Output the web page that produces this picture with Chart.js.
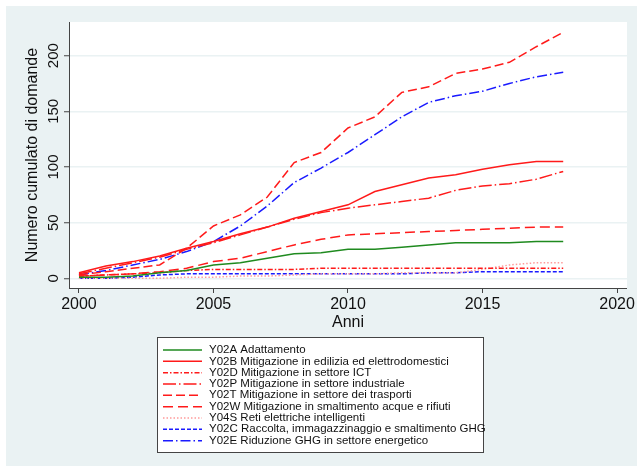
<!DOCTYPE html>
<html>
<head>
<meta charset="utf-8">
<script src="https://cdn.jsdelivr.net/npm/chart.js@4/dist/chart.umd.min.js"></script>
<style>
  html, body { margin: 0; padding: 0; background: #fff; }
</style>
</head>
<body>
<canvas id="domande" width="637" height="466"></canvas>
<script>
// anni e valori cumulati
const anni = [2000, 2001, 2002, 2003, 2004, 2005, 2006, 2007, 2008, 2009,
  2010, 2011, 2012, 2013, 2014, 2015, 2016, 2017, 2018];
const y02a = [1, 1, 2, 5, 7, 12, 14, 18, 22, 23, 26, 26, 28, 30, 32, 32, 32, 33, 33];
const y02b = [5, 11, 15, 20, 27, 33, 40, 46, 54, 60, 66, 78, 84, 90, 93, 98, 102, 105, 105];
const y02d = [2, 3, 4, 5, 7, 8, 8, 8, 8, 9, 9, 9, 9, 9, 9, 9, 9, 9, 9];
const y02p = [4, 9, 14, 19, 26, 32, 39, 46, 53, 59, 63, 66, 69, 72, 79, 83, 85, 89, 96];
const y02t = [3, 6, 9, 12, 27, 47, 57, 73, 104, 113, 135, 145, 167, 172, 184, 188, 194, 208, 221];
const y02w = [2, 3, 4, 6, 9, 15, 18, 24, 30, 35, 39, 40, 41, 42, 43, 44, 45, 46, 46];
const y04s = [0, 0, 0, 0, 1, 1, 2, 2, 3, 4, 4, 4, 5, 5, 5, 8, 12, 14, 14];
const y02c = [0, 0, 1, 3, 4, 4, 4, 4, 4, 4, 4, 4, 4, 5, 5, 6, 6, 6, 6];
const y02e = [3, 7, 12, 17, 24, 33, 47, 65, 86, 99, 113, 129, 145, 158, 164, 168, 175, 181, 185];

const xTicks = [2000, 2005, 2010, 2015, 2020];
const yTicks = [0, 50, 100, 150, 200];

const nomi = [
  "Y02A Adattamento",
  "Y02B Mitigazione in edilizia ed elettrodomestici",
  "Y02D Mitigazione in settore ICT",
  "Y02P Mitigazione in settore industriale",
  "Y02T Mitigazione in settore dei trasporti",
  "Y02W Mitigazione in smaltimento acque e rifiuti",
  "Y04S Reti elettriche intelligenti",
  "Y02C Raccolta, immagazzinaggio e smaltimento GHG",
  "Y02E Riduzione GHG in settore energetico",
];

const FONT = "'Liberation Sans', Arial, sans-serif";
const grigio = "rgb(234,242,243)";

const serie = [
  { data: y02a, color: "#1f8a1f", dash: [] },
  { data: y02b, color: "#ff1a1a", dash: [] },
  { data: y02d, color: "#ff1a1a", dash: [5, 2, 1.5, 2] },
  { data: y02p, color: "#ff1a1a", dash: [13, 3, 1.5, 3] },
  { data: y02t, color: "#ff1a1a", dash: [9, 4] },
  { data: y02w, color: "#ff1a1a", dash: [10, 5] },
  { data: y04s, color: "#ff9a9a", dash: [1.5, 2] },
  { data: y02c, color: "#1a1aff", dash: [4, 2] },
  { data: y02e, color: "#1a1aff", dash: [10, 3, 1.5, 3] },
];

const datasets = serie.map((s, i) => ({
  label: nomi[i],
  data: s.data,
  borderColor: s.color,
  borderDash: s.dash,
  borderWidth: 1.5,
  pointRadius: 0,
  fill: false,
  tension: 0,
}));

// sfondo grigio e area del grafico bianca
const sfondo = {
  id: "sfondo",
  beforeDraw(chart) {
    const { ctx, chartArea } = chart;
    ctx.save();
    ctx.fillStyle = "#fff";
    ctx.fillRect(0, 0, chart.width, chart.height);
    ctx.fillStyle = grigio;
    ctx.fillRect(6, 6, chart.width - 6, chart.height - 6);
    ctx.fillStyle = "#fff";
    ctx.fillRect(chartArea.left, chartArea.top, chartArea.right - chartArea.left, chartArea.bottom - chartArea.top);
    ctx.restore();
  },
};

// legenda in riquadro, una voce per riga
const legenda = {
  id: "legenda",
  afterDraw(chart) {
    const ctx = chart.ctx;
    const left = 157, top = 337, w = 326, h = 115;
    ctx.save();
    ctx.fillStyle = "#fff";
    ctx.fillRect(left, top, w, h);
    ctx.strokeStyle = "#444";
    ctx.lineWidth = 1;
    ctx.strokeRect(left + 0.5, top + 0.5, w, h);
    ctx.font = "11.5px " + FONT;
    ctx.textBaseline = "middle";
    chart.data.datasets.forEach((ds, i) => {
      const y = top + 13 + i * 11.33;
      ctx.beginPath();
      ctx.setLineDash(ds.borderDash);
      ctx.strokeStyle = ds.borderColor;
      ctx.lineWidth = ds.borderWidth;
      ctx.moveTo(left + 6, y);
      ctx.lineTo(left + 45, y);
      ctx.stroke();
      ctx.setLineDash([]);
      ctx.fillStyle = "#111";
      ctx.fillText(ds.label, left + 52, y);
    });
    ctx.restore();
  },
};

new Chart(document.getElementById("domande"), {
  type: "line",
  data: { labels: anni, datasets: datasets },
  plugins: [sfondo, legenda],
  options: {
    responsive: false,
    animation: false,
    devicePixelRatio: 1,
    layout: { padding: { left: 0, top: 22, right: 10, bottom: 133 } },
    plugins: { legend: { display: false }, tooltip: { enabled: false } },
    scales: {
      x: {
        type: "linear",
        min: 1999.63,
        max: 2020.37,
        afterBuildTicks: (s) => { s.ticks = xTicks.map((v) => ({ value: v })); },
        afterFit: (s) => { s.height = 45; },
        grid: { drawOnChartArea: false, drawTicks: true, tickLength: 5, tickColor: "#444", tickWidth: 1 },
        border: { color: "#444", width: 1 },
        ticks: { color: "#111", font: { family: FONT, size: 16 }, padding: 2, maxRotation: 0, callback: (v) => String(v) },
        title: { display: true, text: "Anni", color: "#111", font: { family: FONT, size: 16 }, padding: { top: 0, bottom: 1 } },
      },
      y: {
        min: -8.7,
        max: 230.2,
        afterBuildTicks: (s) => { s.ticks = yTicks.map((v) => ({ value: v })); },
        afterFit: (s) => { s.width = 69; },
        grid: { color: grigio, lineWidth: 1.5, drawTicks: true, tickLength: 5, tickColor: "#444", tickWidth: 1 },
        border: { color: "#444", width: 1 },
        ticks: { color: "#111", font: { family: FONT, size: 15 }, padding: -2, minRotation: 90, maxRotation: 90, crossAlign: "center" },
        title: { display: true, text: "Numero cumulato di domande", color: "#111", font: { family: FONT, size: 16 }, padding: { top: 23, bottom: 0 } },
      },
    },
  },
});
</script>
</body>
</html>
